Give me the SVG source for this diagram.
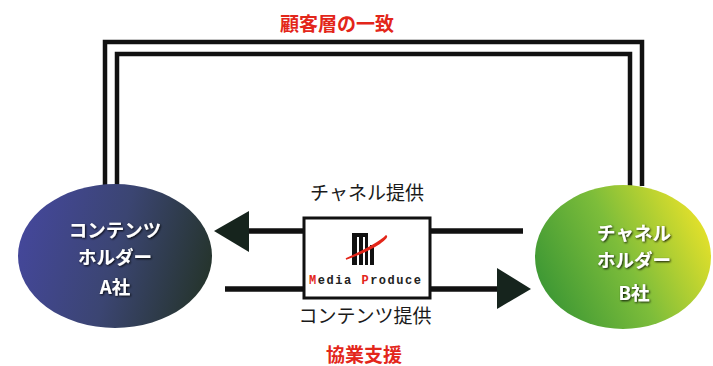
<svg xmlns="http://www.w3.org/2000/svg" width="713" height="366" viewBox="0 0 713 366">
<defs>
<style>
.lbl{font-family:"Noto Sans CJK JP","Noto Sans",sans-serif;font-size:19px;fill:#1a1a1a;text-anchor:middle}
.red{font-family:"Noto Sans CJK JP","Noto Sans",sans-serif;font-size:19px;font-weight:bold;fill:#e3261a;text-anchor:middle}
.node{font-family:"Noto Sans CJK JP","Noto Sans",sans-serif;font-size:18.5px;font-weight:bold;fill:#ffffff;text-anchor:middle}
.wire{fill:none;stroke:#111;stroke-width:4.5}
.arr{stroke:#111;stroke-width:5.5}
.head{fill:#16241d}
</style>
<linearGradient id="gA" x1="0" y1="0.4" x2="1" y2="0.6">
<stop offset="0" stop-color="#44479a"/>
<stop offset="0.5" stop-color="#3b4572"/>
<stop offset="1" stop-color="#25342c"/>
</linearGradient>
<linearGradient id="gB" x1="0" y1="0.7" x2="1" y2="0.3">
<stop offset="0" stop-color="#3a9634"/>
<stop offset="0.5" stop-color="#7dbd3a"/>
<stop offset="1" stop-color="#e8e22a"/>
</linearGradient>
<filter id="sh" x="-20%" y="-20%" width="140%" height="140%">
<feDropShadow dx="1" dy="1" stdDeviation="0.8" flood-color="#000" flood-opacity="0.9"/>
</filter>
</defs>
<rect width="713" height="366" fill="#fff"/>

<text class="red" x="337" y="31">顧客層の一致</text>

<g id="connectors">
<polyline class="wire" points="105,185 105,42 642,42 642,186"/>
<polyline class="wire" points="117,185 117,54 630,54 630,186"/>
<line class="arr" x1="246" y1="231" x2="523" y2="231"/>
<polygon class="head" points="214,231 249,211 249,252"/>
<line class="arr" x1="225" y1="289" x2="500" y2="289"/>
<polygon class="head" points="531,289 497,268 497,309"/>
</g>

<g id="nodeA">
<ellipse cx="115" cy="256" rx="97" ry="72" fill="url(#gA)"/>
<g filter="url(#sh)">
<text class="node" x="115" y="237">コンテンツ</text>
<text class="node" x="115" y="264">ホルダー</text>
<text class="node" x="115" y="294">A社</text>
</g>
</g>

<g id="nodeB">
<ellipse cx="623" cy="257" rx="88" ry="72" fill="url(#gB)"/>
<g filter="url(#sh)">
<text class="node" x="634" y="240">チャネル</text>
<text class="node" x="634" y="267">ホルダー</text>
<text class="node" x="634" y="300">B社</text>
</g>
</g>

<g id="mediaProduce">
<rect x="304" y="218" width="126" height="80" fill="#fff" stroke="#111" stroke-width="3"/>
<rect x="352" y="235" width="5" height="30" fill="#111"/>
<rect x="359" y="235" width="4" height="30" fill="#111"/>
<rect x="365" y="235" width="3" height="30" fill="#111"/>
<rect x="352" y="233" width="16" height="4" fill="#111"/>
<rect x="370" y="245" width="4" height="20" fill="#111"/>
<path d="M346,259 Q366,252 380,243 Q388,237 386,236 Q378,244 346,259 Z" fill="#e3261a" stroke="#e3261a" stroke-width="1.5"/>
<text x="365" y="284" font-family="'Liberation Mono',monospace" font-size="12" font-weight="bold" fill="#222" text-anchor="middle" textLength="112" lengthAdjust="spacing"><tspan fill="#e3261a">M</tspan>edia <tspan fill="#e3261a">P</tspan>roduce</text>
</g>

<text class="lbl" x="367" y="200">チャネル提供</text>
<text class="lbl" x="365" y="323">コンテンツ提供</text>
<text class="red" x="364" y="362">協業支援</text>
</svg>
